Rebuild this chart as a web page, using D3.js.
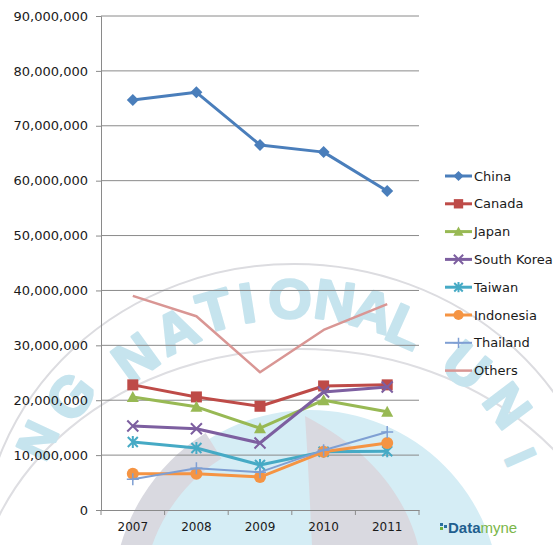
<!DOCTYPE html>
<html><head><meta charset="utf-8">
<script src="https://cdn.jsdelivr.net/npm/d3@7"></script>
<style>body{margin:0;background:#fff}svg{display:block}</style>
</head><body>
<script>
const years = ["2007","2008","2009","2010","2011"];
const china      = [74700000, 76100000, 66500000, 65200000, 58100000];
const canada     = [22800000, 20600000, 18900000, 22600000, 22800000];
const japan      = [20600000, 18800000, 14900000, 20000000, 17900000];
const southKorea = [15300000, 14800000, 12200000, 21500000, 22400000];
const taiwan     = [12400000, 11300000,  8200000, 10600000, 10700000];
const indonesia  = [ 6600000,  6600000,  6000000, 10600000, 12200000];
const thailand   = [ 5600000,  7600000,  6900000, 10900000, 14200000];
const others     = [39000000, 35300000, 25100000, 32800000, 37500000];
const yTicks = [0,10000000,20000000,30000000,40000000,50000000,60000000,70000000,80000000,90000000];

// background watermark letters (decoration): letter, x, y, rotation, size
const wmLetters = [
  ["G",70,396,-52,56],["N",37,440,-65,48],
  ["N",135,357,-36,56],["A",176,330,-26,56],["T",215,310,-16,56],["I",247,302,-9,56],
  ["O",290,298,0,56],["N",335,300,8,56],["A",373,310,16,56],["L",406,326,24,56],
  ["U",467,365,40,56],["N",508,405,53,54],["I",521,457,66,44]
];

const series = [
  {name:"China", values:china, color:"#4a7ebb", marker:"diamond", w:3},
  {name:"Canada", values:canada, color:"#be4b48", marker:"square", w:3},
  {name:"Japan", values:japan, color:"#98b954", marker:"triangle", w:3},
  {name:"South Korea", values:southKorea, color:"#7d5fa0", marker:"x", w:3},
  {name:"Taiwan", values:taiwan, color:"#46aac5", marker:"star", w:3},
  {name:"Indonesia", values:indonesia, color:"#f59443", marker:"circle", w:3},
  {name:"Thailand", values:thailand, color:"#7f9fd3", marker:"plus", w:2},
  {name:"Others", values:others, color:"#d99694", marker:"none", w:2.5}
];

const W=553,H=545;
const svg=d3.select("body").append("svg").attr("width",W).attr("height",H);
const font="DejaVu Sans, sans-serif";

// ---- faint watermark (background) ----
const wm=svg.append("g");
wm.append("circle").attr("cx",310).attr("cy",600).attr("r",190).attr("fill","#d5edf5");
wm.append("path").attr("d",(()=>{const p=d3.path();p.arc(310,600,182,185*Math.PI/180,238*Math.PI/180,false);return p.toString();})())
  .attr("fill","none").attr("stroke","#d9d9e0").attr("stroke-width",30);
wm.append("path").attr("d","M305,416 C308,460 310,505 312,545 L418,545 C405,495 370,450 305,416 Z").attr("fill","#d9d9e0");
wm.append("ellipse").attr("cx",294).attr("cy",555).attr("rx",313).attr("ry",291)
  .attr("fill","none").attr("stroke","#dcdce0").attr("stroke-width",2);
wm.append("ellipse").attr("cx",300).attr("cy",620).attr("rx",326).attr("ry",271)
  .attr("fill","none").attr("stroke","#dedee2").attr("stroke-width",2);
wm.selectAll("text.wm").data(wmLetters).join("text").attr("class","wm")
  .attr("transform",d=>`translate(${d[1]},${d[2]}) rotate(${d[3]})`)
  .attr("text-anchor","middle").attr("dy","0.36em")
  .attr("font-family","Liberation Sans, sans-serif").attr("font-weight","bold")
  .attr("font-size",d=>d[4]).attr("fill","#c6e4ee")
  .attr("stroke","#c6e4ee").attr("stroke-width",2.5).attr("stroke-linejoin","round")
  .text(d=>d[0]);

// ---- chart ----
const x=d3.scaleBand().domain(years).range([101,419]);
const y=d3.scaleLinear().domain([0,90000000]).range([510,16]);
const cx=d=>x(d)+x.bandwidth()/2;

svg.append("g").selectAll("line").data(yTicks.filter(d=>d>0)).join("line")
  .attr("x1",101).attr("x2",419).attr("y1",d=>y(d)).attr("y2",d=>y(d))
  .attr("stroke","#8a8a8a").attr("stroke-width",1);

const yAxis=d3.axisLeft(y).tickValues(yTicks).tickSize(5).tickPadding(8)
  .tickFormat(d=>d===0?"0":d3.format(",")(d));
const gy=svg.append("g").attr("transform","translate(101,0)").call(yAxis);
gy.select(".domain").attr("stroke","#8a8a8a");
gy.selectAll(".tick line").attr("stroke","#8a8a8a");
gy.selectAll("text").attr("font-family",font).attr("font-size",13).attr("fill","#1a1a1a");

const xAxis=d3.axisBottom(x).tickSize(0).tickPadding(12);
const gx=svg.append("g").attr("transform","translate(0,510)").call(xAxis);
gx.select(".domain").attr("stroke","#8a8a8a");
gx.selectAll("text").attr("font-family",font).attr("font-size",12).attr("fill","#1a1a1a");
svg.append("g").selectAll("line").data(years.concat(["end"])).join("line")
  .attr("x1",(d,i)=>101+i*x.bandwidth()).attr("x2",(d,i)=>101+i*x.bandwidth())
  .attr("y1",510).attr("y2",515).attr("stroke","#8a8a8a");

function drawMarker(g,type,color,px,py,legend){
  const s=legend?0.85:1;
  if(type==="diamond"){
    g.append("path").attr("d",`M${px},${py-6*s}L${px+6*s},${py}L${px},${py+6*s}L${px-6*s},${py}Z`).attr("fill",color);
  } else if(type==="square"){
    g.append("rect").attr("x",px-5.5*s).attr("y",py-5.5*s).attr("width",11*s).attr("height",11*s).attr("fill",color);
  } else if(type==="triangle"){
    g.append("path").attr("d",`M${px},${py-6*s}L${px+6*s},${py+5*s}L${px-6*s},${py+5*s}Z`).attr("fill",color);
  } else if(type==="x"){
    g.append("path").attr("d",`M${px-5.5*s},${py-5.5*s}L${px+5.5*s},${py+5.5*s}M${px+5.5*s},${py-5.5*s}L${px-5.5*s},${py+5.5*s}`).attr("stroke",color).attr("stroke-width",2);
  } else if(type==="star"){
    g.append("path").attr("d",`M${px-5*s},${py-5*s}L${px+5*s},${py+5*s}M${px+5*s},${py-5*s}L${px-5*s},${py+5*s}M${px},${py-6*s}L${px},${py+6*s}`).attr("stroke",color).attr("stroke-width",2);
  } else if(type==="circle"){
    g.append("circle").attr("cx",px).attr("cy",py).attr("r",6*s).attr("fill",color);
  } else if(type==="plus"){
    g.append("path").attr("d",`M${px-6*s},${py}L${px+6*s},${py}M${px},${py-6*s}L${px},${py+6*s}`).attr("stroke",color).attr("stroke-width",1.5);
  }
}

const line=d3.line().x((d,i)=>cx(years[i])).y(d=>y(d));
series.forEach(s=>{
  const g=svg.append("g");
  g.append("path").datum(s.values).attr("d",line).attr("fill","none")
    .attr("stroke",s.color).attr("stroke-width",s.w).attr("stroke-linejoin","round");
  s.values.forEach((v,i)=>drawMarker(g,s.marker,s.color,cx(years[i]),y(v),false));
});

const lg=svg.append("g");
series.forEach((s,i)=>{
  const ly=176+i*27.8;
  lg.append("line").attr("x1",445).attr("x2",472).attr("y1",ly).attr("y2",ly)
    .attr("stroke",s.color).attr("stroke-width",s.w);
  drawMarker(lg,s.marker,s.color,458.5,ly,true);
  lg.append("text").attr("x",474).attr("y",ly).attr("dy","0.35em")
    .attr("font-family",font).attr("font-size",13).attr("fill","#1a1a1a").text(s.name);
});

const logo=svg.append("g");
logo.append("rect").attr("x",440).attr("y",523).attr("width",3).attr("height",3).attr("fill","#2a6f9e");
logo.append("rect").attr("x",440).attr("y",527).attr("width",3).attr("height",3).attr("fill","#6fae3c");
logo.append("rect").attr("x",444).attr("y",525).attr("width",3).attr("height",3).attr("fill","#2a6f9e");
const lt=logo.append("text").attr("x",448).attr("y",533).attr("font-family","Liberation Sans Narrow, Liberation Sans, sans-serif").attr("font-size",15);
lt.append("tspan").attr("fill","#1f5f8f").attr("font-weight","bold").text("Data");
lt.append("tspan").attr("fill","#7ab648").text("myne");
</script>
</body></html>
